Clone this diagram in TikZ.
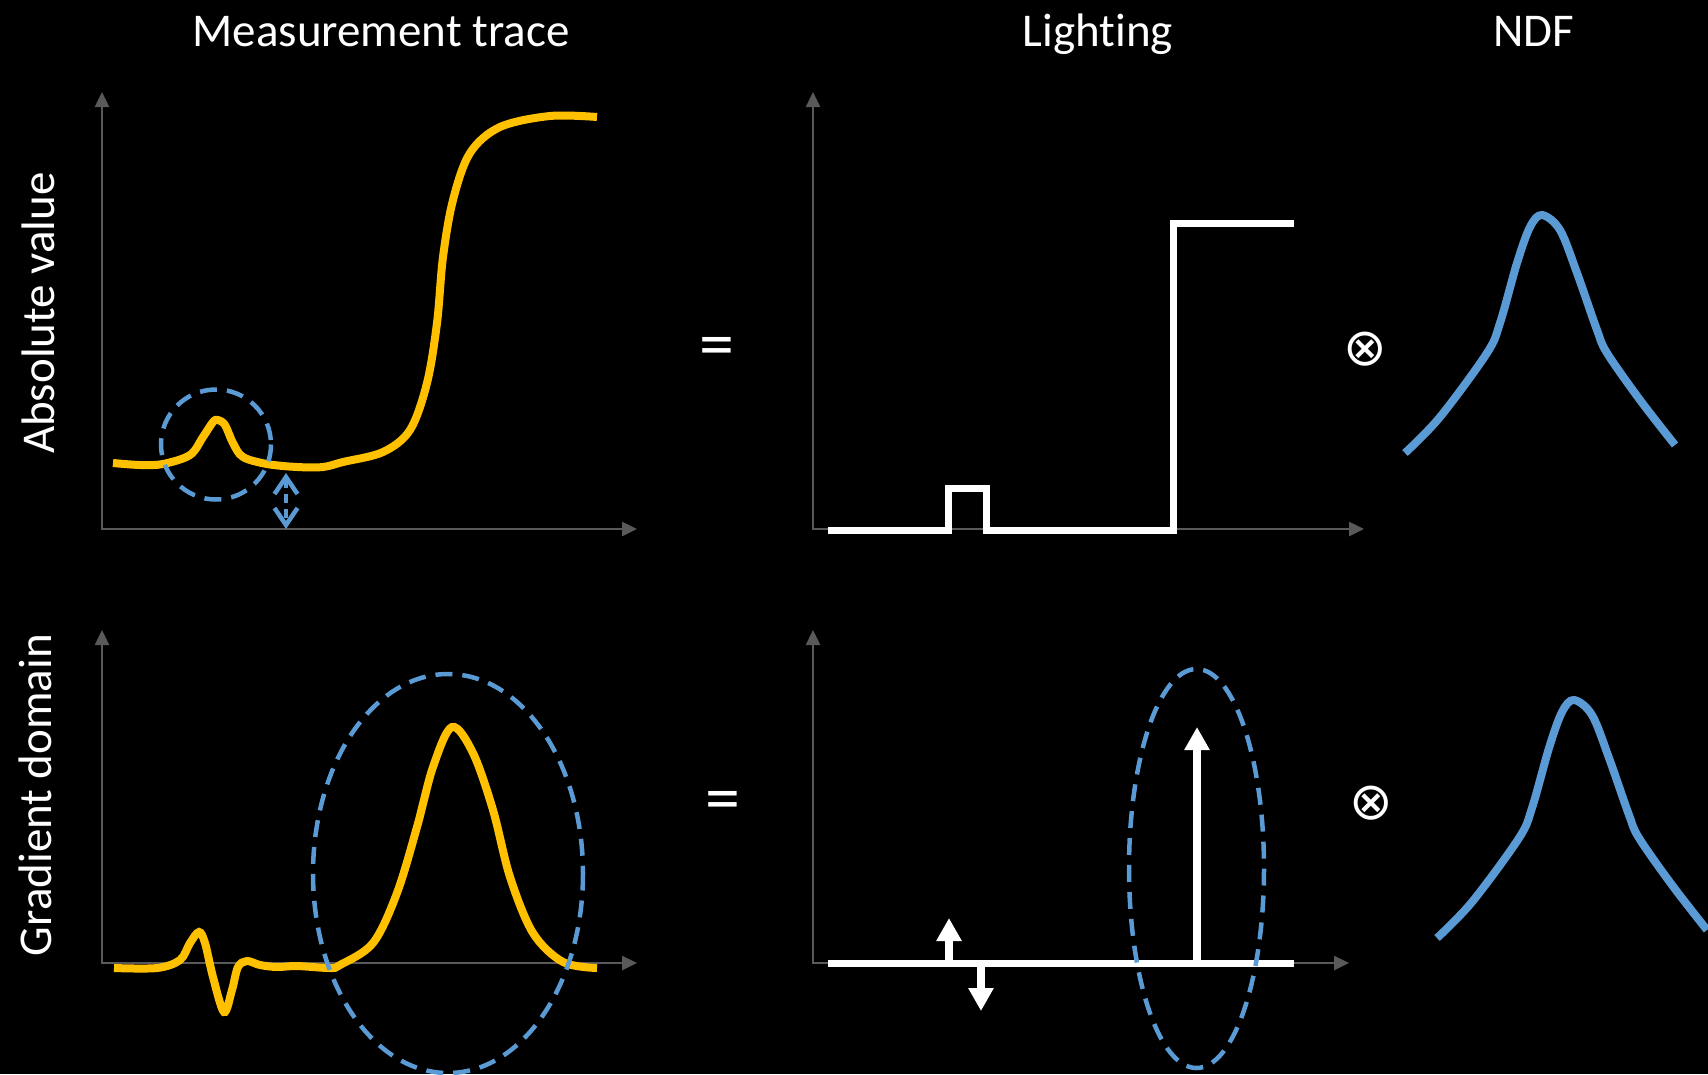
\documentclass[tikz,border=0pt]{standalone}
\usepackage{fontspec}
\setmainfont{Carlito}[Ligatures={NoCommon}]
\newfontfamily\symfont{DejaVu Sans}
\usetikzlibrary{arrows.meta}
\definecolor{gold}{HTML}{FFC000}
\definecolor{sky}{HTML}{5B9BD5}
\definecolor{axisgrey}{HTML}{595959}
\begin{document}
\begin{tikzpicture}[x=1pt,y=-1pt,
  axisline/.style={draw=axisgrey, line width=2.5pt, arrows={Triangle[length=15pt,width=14pt]-Triangle[length=15pt,width=14pt]}},
  titletext/.style={text=white, font=\fontsize{47}{56}\selectfont, inner sep=0pt},
  optext/.style={text=white, font=\fontsize{70}{80}\selectfont, inner sep=0pt},
  convtext/.style={text=white, font=\symfont\fontsize{52}{60}\selectfont, inner sep=0pt},
  trace/.style={draw=gold, line width=8pt},
  ndf/.style={draw=sky, line width=8pt},
  ring/.style={draw=sky, line width=4.5pt, dash pattern=on 17pt off 10pt},
  light/.style={draw=white, line width=7pt, line join=miter},
  spike/.style={draw=white, line width=8pt, arrows={-Triangle[length=23pt,width=24pt]}},
  gap/.style={draw=sky, line width=4.5pt, dash pattern=on 9pt off 6pt, arrows={Straight Barb[length=17pt,width=23pt]-Straight Barb[length=17pt,width=23pt]}}
]
\fill[black] (0,0) rectangle (1708,1074);
\useasboundingbox (0,0) rectangle (1708,1074);

% titles
\node[titletext, anchor=base] (tmeas) at (381,46) {Measurement trace};
\node[titletext, anchor=base] (tlight) at (1098,46) {Lighting};
\node[titletext, anchor=base] (tndf) at (1534,46) {NDF};
\node[titletext, anchor=base, rotate=90] (tabs) at (54,313) {Absolute value};
\node[titletext, anchor=base, rotate=90] (tgrad) at (51,795) {Gradient domain};

% operators
\node[optext] (eq1) at (717,352) {=};
\node[optext] (eq2) at (723,806) {=};
\node[convtext] (conv1) at (1365,349) {⊗};
\node[convtext] (conv2) at (1371,803) {⊗};

% axes
\draw[axisline] (102,92) -- (102,529) -- (637,529);
\draw[axisline] (813,92) -- (813,529) -- (1364,529);
\draw[axisline] (102,630) -- (102,963) -- (637,963);
\draw[axisline] (813,630) -- (813,963) -- (1349,963);

% top-left trace
\draw[trace] plot[smooth, tension=0.55] coordinates {(113,463) (140,465) (163,464) (190,455) (203,437) (213,422) (218,420) (225,425) (233,443) (243,457) (267,464) (297,467) (323,467) (343,462) (383,452) (410,430) (427,383) (437,323) (443,257) (453,200) (470,153) (500,127) (550,116) (597,117)};
\draw[ring] (216,444.5) circle [radius=55];
\coordinate (gtop) at (286,473);
\coordinate (gbot) at (286,529);
\draw[gap] (gtop) -- (gbot);

% bottom-left trace
\draw[trace] plot[smooth, tension=0.55] coordinates {(114,968) (157,968) (180,960) (190,943) (199,932) (205,943) (213,977) (224,1012) (232,990) (238,967) (247,961) (260,965) (277,967) (297,966) (330,968) (340,965) (373,943) (397,893) (417,827) (433,767) (452,727) (473,753) (493,810) (510,877) (533,933) (563,962) (597,968)};
\draw[ring] (448,873.5) ellipse [x radius=135, y radius=199.5];

% top-right lighting
\draw[light] (828,530) -- (948,530) -- (948,488) -- (986,488) -- (986,530) -- (1173,530) -- (1173,223) -- (1294,223);

% bottom-right lighting
\draw[light] (828,963) -- (1294,963);
\coordinate (s1) at (949,963);
\coordinate (s1t) at (949,918);
\coordinate (s2) at (981,963);
\coordinate (s2t) at (981,1011);
\coordinate (s3) at (1197,963);
\coordinate (s3t) at (1197,727);
\draw[spike] (s1) -- (s1t);
\draw[spike] (s2) -- (s2t);
\draw[spike] (s3) -- (s3t);
\draw[ring] (1196.5,868.5) ellipse [x radius=67.5, y radius=199.5];

% NDFs
\draw[ndf] plot[smooth, tension=0.55] coordinates {(1405,453) (1440,417) (1487,353) (1500,323) (1517,263) (1530,227) (1542,215) (1560,230) (1577,273) (1597,330) (1607,353) (1640,400) (1675,445)};
\begin{scope}[shift={(32,485)}]
\clip (-40,-300) rectangle (1676,600);
\draw[ndf] plot[smooth, tension=0.55] coordinates {(1405,453) (1440,417) (1487,353) (1500,323) (1517,263) (1530,227) (1542,215) (1560,230) (1577,273) (1597,330) (1607,353) (1640,400) (1675,445)};
\end{scope}
\end{tikzpicture}
\end{document}
